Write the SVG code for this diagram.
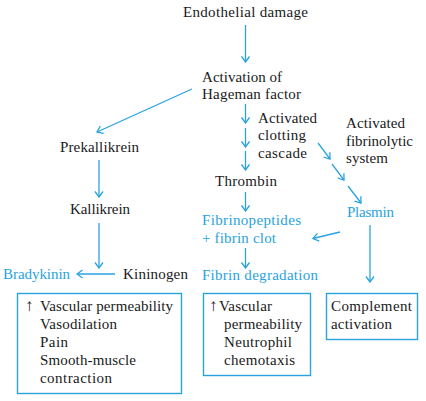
<svg xmlns="http://www.w3.org/2000/svg" width="426" height="401" viewBox="0 0 426 401">
<defs>
<style>
text{font-family:"Liberation Serif","Times New Roman",serif;font-size:15px;fill:#1a1a1a}
.b{fill:#29a3e0}
.up{font-size:17px}
.c line{stroke:#29a3e0;stroke-width:1.3;fill:none;marker-end:url(#ah)}
.box{fill:none;stroke:#29a3e0;stroke-width:1.4}
</style>
<marker id="ah" viewBox="-7 -5 8 10" refX="0" refY="0" markerWidth="8" markerHeight="10" markerUnits="userSpaceOnUse" orient="auto">
<path d="M-5.5,-4 L0,0 L-5.5,4" fill="none" stroke="#29a3e0" stroke-width="1.3"/>
</marker>
</defs>
<rect width="426" height="401" fill="#fff"/>
<g class="c" id="connectors">
<line x1="245.5" y1="25" x2="245.5" y2="62"/>
<line x1="192" y1="89" x2="97" y2="132"/>
<line x1="245.5" y1="104" x2="245.5" y2="123"/>
<line x1="245.5" y1="128" x2="245.5" y2="147"/>
<line x1="245.5" y1="151" x2="245.5" y2="170"/>
<line x1="318" y1="143" x2="330" y2="159"/>
<line x1="332" y1="164" x2="344" y2="180"/>
<line x1="348" y1="186" x2="361" y2="203"/>
<line x1="99" y1="160" x2="99" y2="197"/>
<line x1="99" y1="223" x2="99" y2="268"/>
<line x1="115" y1="274" x2="77" y2="274"/>
<line x1="245.5" y1="192" x2="245.5" y2="211"/>
<line x1="245.5" y1="248" x2="245.5" y2="268"/>
<line x1="340" y1="232" x2="313" y2="238.5"/>
<line x1="370" y1="225" x2="370" y2="282"/>
</g>
<g id="n-endothelial"><text x="183" y="17" textLength="125">Endothelial damage</text></g>
<g id="n-hageman"><text x="202" y="82" textLength="80">Activation of</text><text x="202" y="99" textLength="99">Hageman factor</text></g>
<g id="n-clotting"><text x="258" y="123" textLength="59">Activated</text><text x="258" y="140" textLength="48">clotting</text><text x="258" y="158" textLength="49">cascade</text></g>
<g id="n-fibrinolytic"><text x="346" y="128" textLength="59">Activated</text><text x="346" y="146" textLength="67">fibrinolytic</text><text x="346" y="163" textLength="42">system</text></g>
<g id="n-prekallikrein"><text x="60" y="152" textLength="79">Prekallikrein</text></g>
<g id="n-kallikrein"><text x="70" y="214" textLength="60">Kallikrein</text></g>
<g id="n-kininogen"><text x="123" y="279" textLength="65">Kininogen</text></g>
<g id="n-bradykinin"><text class="b" x="3" y="279" textLength="67">Bradykinin</text></g>
<g id="n-thrombin"><text x="215" y="186" textLength="62">Thrombin</text></g>
<g id="n-fibrinopeptides"><text class="b" x="202" y="225" textLength="99">Fibrinopeptides</text><text class="b" x="202" y="243" textLength="74">+ fibrin clot</text></g>
<g id="n-fibrindeg"><text class="b" x="202" y="280" textLength="116">Fibrin degradation</text></g>
<g id="n-plasmin"><text class="b" x="347" y="217" textLength="47">Plasmin</text></g>
<g id="box-bradykinin">
<rect class="box" x="17.5" y="293.5" width="164" height="100"/>
<text class="up" x="25" y="311">↑</text>
<text x="40" y="311" textLength="133">Vascular permeability</text>
<text x="40" y="329" textLength="77">Vasodilation</text>
<text x="40" y="347" textLength="28">Pain</text>
<text x="40" y="365" textLength="96">Smooth-muscle</text>
<text x="40" y="383" textLength="72">contraction</text>
</g>
<g id="box-fibrin">
<rect class="box" x="203.5" y="293.5" width="107" height="82"/>
<text class="up" x="209" y="311">↑</text>
<text x="219" y="311" textLength="53">Vascular</text>
<text x="224" y="329" textLength="78">permeability</text>
<text x="224" y="347" textLength="68">Neutrophil</text>
<text x="224" y="365" textLength="71">chemotaxis</text>
</g>
<g id="box-complement">
<rect class="box" x="326.5" y="293.5" width="91" height="46"/>
<text x="331" y="311" textLength="81">Complement</text>
<text x="331" y="329" textLength="61">activation</text>
</g>
</svg>
